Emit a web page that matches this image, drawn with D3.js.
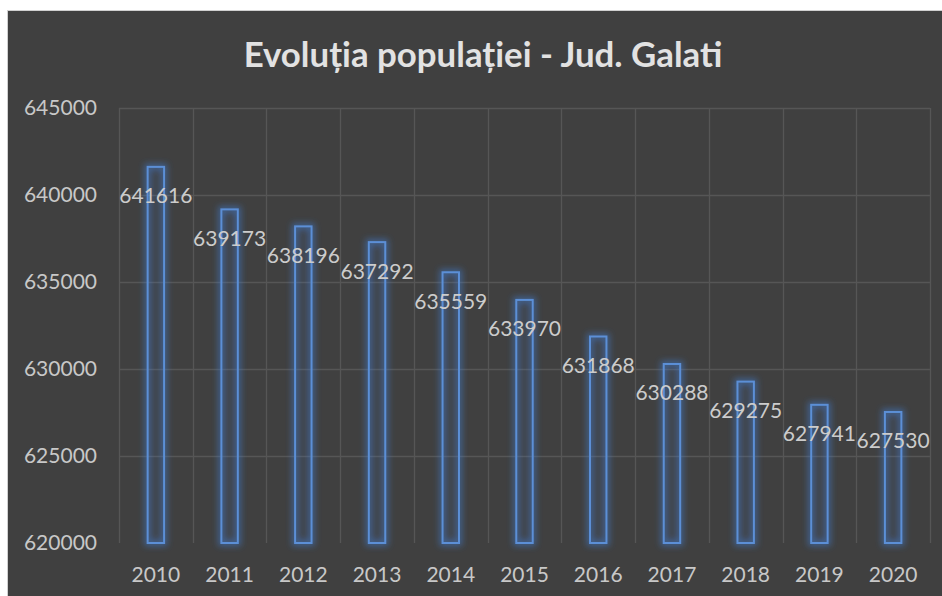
<!DOCTYPE html>
<html>
<head>
<meta charset="utf-8">
<script src="https://cdn.jsdelivr.net/npm/d3@7"></script>
<style>
  html, body { margin: 0; padding: 0; background: #ffffff; }
  svg { display: block; }
</style>
</head>
<body>
<svg id="chart" width="942" height="596"></svg>
<script>
const title = "Evoluția populației - Jud. Galati";
const years = ["2010", "2011", "2012", "2013", "2014", "2015", "2016", "2017", "2018", "2019", "2020"];
const population = [641616, 639173, 638196, 637292, 635559, 633970, 631868, 630288, 629275, 627941, 627530];
const yTicks = [620000, 625000, 630000, 635000, 640000, 645000];

const W = 942, H = 596;
const plot = { left: 119, right: 930, top: 108, bottom: 543 };
const FONT = "Lato, 'Open Sans', 'Liberation Sans', sans-serif";

const svg = d3.select("#chart");

// glow filter
const defs = svg.append("defs");
const f = defs.append("filter").attr("id", "glow")
  .attr("x", "-100%").attr("y", "-20%").attr("width", "300%").attr("height", "140%");
f.append("feMorphology").attr("in", "SourceAlpha").attr("operator", "dilate").attr("radius", 1.5).attr("result", "dil");
f.append("feGaussianBlur").attr("in", "dil").attr("stdDeviation", 3).attr("result", "blur");
f.append("feFlood").attr("flood-color", "#3f7fd8").attr("flood-opacity", 0.55).attr("result", "col");
f.append("feComposite").attr("in", "col").attr("in2", "blur").attr("operator", "in").attr("result", "glowc");
const m = f.append("feMerge");
m.append("feMergeNode").attr("in", "glowc");
m.append("feMergeNode").attr("in", "SourceGraphic");

// background
svg.append("rect").attr("x", 0).attr("y", 0).attr("width", W).attr("height", H).attr("fill", "#ffffff");
svg.append("rect").attr("x", 7.5).attr("y", 10.5).attr("width", W + 10).attr("height", H + 10)
  .attr("fill", "#404040").attr("stroke", "#d0d0d0").attr("stroke-width", 1);

const y = d3.scaleLinear().domain([620000, 645000]).range([plot.bottom, plot.top]);
const xCat = d3.scaleBand().domain(years).range([plot.left, plot.right]).padding(0);
const x = d3.scaleBand().domain(years).range([plot.left, plot.right]).paddingInner(0.75).paddingOuter(0.375);

// gridlines
const grid = svg.append("g").attr("stroke", "#565656").attr("stroke-width", 1.3);
grid.selectAll("line.h").data(yTicks.filter(t => t > 620000)).join("line")
  .attr("x1", plot.left).attr("x2", plot.right)
  .attr("y1", d => Math.round(y(d)) + 0.5).attr("y2", d => Math.round(y(d)) + 0.5);
const bounds = years.map(d => xCat(d)).concat([plot.right]);
grid.selectAll("line.v").data(bounds).join("line")
  .attr("x1", d => Math.round(d) + 0.5).attr("x2", d => Math.round(d) + 0.5)
  .attr("y1", plot.top).attr("y2", plot.bottom);

// y axis
const yAxis = d3.axisLeft(y).tickValues(yTicks).tickSize(0).tickPadding(0).tickFormat(d3.format("d"));
const ya = svg.append("g").attr("transform", `translate(97,0)`).call(yAxis);
ya.select(".domain").remove();
ya.selectAll("text").attr("font-family", FONT).attr("font-size", 21).attr("fill", "#c8c8c8");

// x axis
const xAxis = d3.axisBottom(xCat).tickSize(0).tickPadding(0);
const xa = svg.append("g").attr("transform", `translate(0,${plot.bottom})`).call(xAxis);
xa.select(".domain").remove();
xa.selectAll("text").attr("font-family", FONT).attr("font-size", 21).attr("fill", "#c8c8c8")
  .attr("dy", null).attr("y", 30).attr("dominant-baseline", "central");

// bars
svg.append("g").selectAll("rect").data(population).join("rect")
  .attr("x", (d, i) => x(years[i]) + 1)
  .attr("y", d => y(d))
  .attr("width", x.bandwidth() - 2)
  .attr("height", d => plot.bottom - y(d))
  .attr("fill", "rgba(70,110,170,0.06)")
  .attr("stroke", "#5b8fd6")
  .attr("stroke-width", 2)
  .attr("filter", "url(#glow)");

// data labels
svg.append("g").selectAll("text").data(population).join("text")
  .attr("x", (d, i) => x(years[i]) + x.bandwidth() / 2)
  .attr("y", d => y(d) + 28)
  .attr("text-anchor", "middle")
  .attr("dominant-baseline", "central")
  .attr("font-family", FONT).attr("font-size", 21).attr("fill", "#cccccc")
  .text(d => d);

// title
const t = svg.append("text")
  .attr("x", 483).attr("y", 53)
  .attr("text-anchor", "middle").attr("dominant-baseline", "central")
  .attr("font-family", FONT).attr("font-weight", "bold").attr("font-size", 30)
  .attr("fill", "#e2e2e2").text(title);
const tw = t.node().getComputedTextLength();
t.attr("font-size", 30 * 479 / tw);
</script>
</body>
</html>
